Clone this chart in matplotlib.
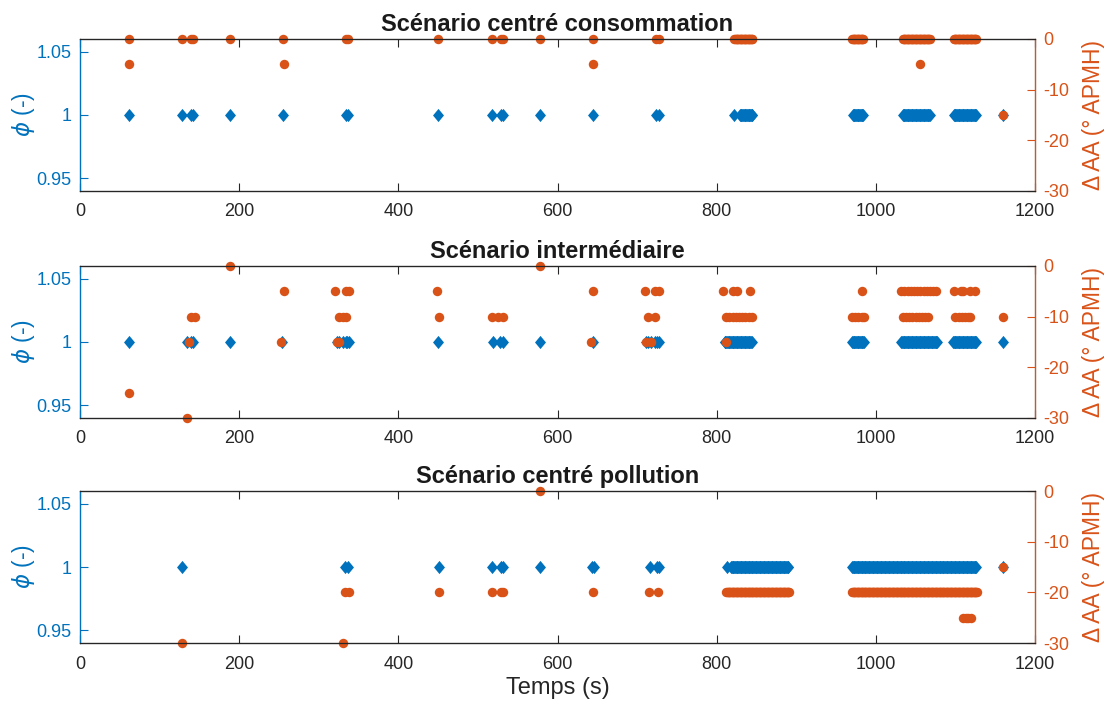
import numpy as np
import matplotlib.pyplot as plt
from matplotlib.path import Path
from matplotlib.ticker import FixedLocator, FixedFormatter

plt.rcParams['font.family'] = ['Liberation Sans', 'DejaVu Sans']
plt.rcParams['axes.unicode_minus'] = False

BLUE = '#0072BD'
ORANGE = '#D95319'
GREY = '#262626'


def span(a, b, step=1):
    # consecutive samples (1 s) read as a solid band of markers on the chart
    return list(range(a, b + 1, step))


titles = ['Scénario centré consommation', 'Scénario intermédiaire', 'Scénario centré pollution']

# --- Scénario centré consommation ---
t_phi_cons = [61, 128, 139, 142, 188, 255, 334, 337, 450, 518, 529, 532, 578, 644, 724, 727, 822] \
    + span(829, 845) + span(971, 984) + span(1034, 1068) + span(1098, 1126) + [1160]
t_aa_cons_0 = [61, 128, 139, 142, 188, 255, 334, 337, 450, 518, 529, 532, 578, 644, 724, 727] \
    + span(822, 845) + span(970, 984) + span(1034, 1068) + span(1098, 1126)
t_aa_cons_m5 = [61, 256, 645, 1056]
t_aa_cons_m15 = [1160]

# --- Scénario intermédiaire ---
t_phi_int = [62, 135, 139, 142, 189, 254, 323, 326, 330, 334, 336, 338, 450, 519, 528, 531, 578,
             644, 711, 714, 718, 723, 725, 727] \
    + span(810, 844) + span(970, 985) + span(1032, 1077) + span(1097, 1126) + [1160]
t_aa_int_0 = [189, 578]
t_aa_int_m5 = [256, 320, 334, 338, 448, 645, 710, 723, 727, 808, 820, 826, 842, 983,
               1032, 1036, 1040, 1044, 1048, 1052, 1056, 1060, 1064, 1068, 1072, 1076,
               1098, 1107, 1110, 1118, 1125]
t_aa_int_m10 = [140, 144, 326, 330, 334, 451, 518, 525, 531, 714, 723,
                812, 816, 820, 824, 828, 832, 836, 840, 845,
                970, 974, 978, 982, 985,
                1034, 1038, 1042, 1046, 1050, 1054, 1058, 1062, 1066,
                1100, 1104, 1108, 1112, 1116, 1118, 1160]
t_aa_int_m15 = [137, 253, 323, 326, 642, 711, 717, 812]
t_aa_int_m25 = [62]
t_aa_int_m30 = [135]

# --- Scénario centré pollution ---
t_phi_pol = [128, 333, 337, 451, 518, 529, 532, 578, 643, 646, 716, 725, 728, 813] \
    + span(818, 890) + span(970, 1126) + [1160]
t_aa_pol_0 = [578]
t_aa_pol_m15 = [1160]
t_aa_pol_m20 = [333, 338, 451, 518, 529, 532, 644, 715, 726] + span(812, 891) + span(970, 1127)
t_aa_pol_m25 = [1110, 1113, 1116, 1119]
t_aa_pol_m30 = [128, 330]

phi_times = [t_phi_cons, t_phi_int, t_phi_pol]
aa_groups = [
    {0: t_aa_cons_0, -5: t_aa_cons_m5, -15: t_aa_cons_m15},
    {0: t_aa_int_0, -5: t_aa_int_m5, -10: t_aa_int_m10, -15: t_aa_int_m15,
     -25: t_aa_int_m25, -30: t_aa_int_m30},
    {0: t_aa_pol_0, -15: t_aa_pol_m15, -20: t_aa_pol_m20, -25: t_aa_pol_m25, -30: t_aa_pol_m30},
]

diamond = Path([(0, 1), (0.83, 0), (0, -1), (-0.83, 0), (0, 1)], closed=True)

fig = plt.figure(figsize=(11.04, 7.06), dpi=100)
bottoms = [0.7295, 0.408, 0.0892]
for i in range(3):
    ax = fig.add_axes([0.0725, bottoms[i], 0.865, 0.2153])
    ax2 = ax.twinx()

    t = np.array(phi_times[i])
    ax.plot(t, np.ones_like(t), linestyle='none', marker=diamond, markersize=9.5,
            color=BLUE, markeredgewidth=0, clip_on=False)

    t_aa, aa = [], []
    for val, times in aa_groups[i].items():
        t_aa += times
        aa += [val] * len(times)
    ax2.plot(t_aa, aa, linestyle='none', marker='o', markersize=6.8,
             color=ORANGE, markeredgewidth=0, clip_on=False)

    ax.set_xlim(0, 1200)
    ax.set_ylim(0.94, 1.06)
    ax2.set_ylim(-30, 0)
    ax.xaxis.set_major_locator(FixedLocator(range(0, 1201, 200)))
    ax.yaxis.set_major_locator(FixedLocator([0.95, 1.0, 1.05]))
    ax.yaxis.set_major_formatter(FixedFormatter(['0.95', '1', '1.05']))
    ax2.yaxis.set_major_locator(FixedLocator([-30, -20, -10, 0]))

    for s in ['top', 'bottom']:
        ax2.spines[s].set_color(GREY)
    ax2.spines['left'].set_color(BLUE)
    ax2.spines['right'].set_color(ORANGE)
    for sp in ax2.spines.values():
        sp.set_linewidth(0.9)
    ax.tick_params(axis='x', direction='in', top=True, length=5.5, width=0.8,
                   colors=GREY, labelsize=13, pad=9)
    ax.tick_params(axis='y', direction='in', length=5.5, width=0.8,
                   colors=BLUE, labelsize=13, pad=6)
    ax2.tick_params(axis='y', direction='in', length=5.5, width=0.8,
                    colors=ORANGE, labelsize=13, pad=6)

    ax.set_ylabel(r'$\phi$ (-)', color=BLUE, fontsize=16.5, labelpad=0)
    ax2.set_ylabel('Δ AA (° APMH)', color=ORANGE, fontsize=16.5, labelpad=9)
    ax.set_title(titles[i], fontweight='bold', fontsize=17, pad=6, color='#1a1a1a')

    if i == 2:
        ax.set_xlabel('Temps (s)', fontsize=17, color=GREY, labelpad=3)

fig.savefig('out.png', dpi=100)
